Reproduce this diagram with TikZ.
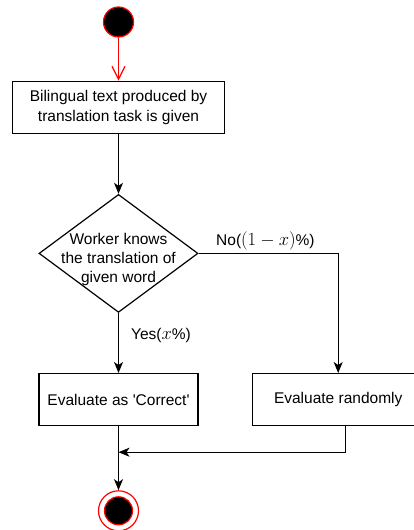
\documentclass[tikz,border=0pt]{standalone}
\usepackage{fix-cm}
\usepackage{fontspec}
\setmainfont{Liberation Sans}
\usetikzlibrary{arrows.meta, positioning, shapes.geometric}
\newcommand{\bigmath}[1]{{\fontsize{18.5}{18.6}\selectfont$#1$}}

\begin{document}
\begin{tikzpicture}[node distance=60pt, font=\fontsize{15.5}{18.6}\selectfont, line width=1.2pt,
  box/.style={draw, rectangle, minimum height=52pt, align=center, inner sep=0pt},
  arr/.style={-{Stealth[length=11pt, width=9pt, inset=3pt]}},
  lbl/.style={inner sep=1pt}]
  \useasboundingbox (0,0) rectangle (414pt,-530pt);
  \node[circle, draw=red, fill=black, minimum size=30pt, inner sep=0pt] (start) at (118.5pt,-22pt) {};
  \node[box, minimum width=212pt, below=43pt of start] (given) {Bilingual text produced by\\[1.5pt]translation task is given};
  \node[diamond, draw, minimum width=159pt, minimum height=118pt, inner sep=0pt, below=of given] (knows) {};
  \node[align=center] (knowstext) at ([yshift=-6pt]knows.center) {Worker knows\\the translation of\\given word};
  \node[box, minimum width=159pt, below=of knows] (correct) {Evaluate as \textquotesingle Correct\textquotesingle};
  \node[box, minimum width=172pt, right=53pt of correct] (random) {Evaluate randomly};
  \node[circle, draw=red, minimum size=40pt, inner sep=0pt, below=64pt of correct] (end) {};
  \node[circle, draw=red, fill=black, minimum size=28pt, inner sep=0pt] (endin) at (end) {};
  % branch labels
  \node[lbl, anchor=west] (no) at ([shift={(16pt,13pt)}]knows.east) {No(\bigmath{(1-x)}\%)};
  \node[lbl, anchor=west] (yes) at ([shift={(11pt,-22pt)}]knows.south) {Yes(\bigmath{x}\%)};
  \coordinate (merge) at ([yshift=-26pt]correct.south);
  \coordinate (randout) at ([xshift=7pt]random.south);
  % connectors
  \draw[red, -{Straight Barb[length=13pt, width=13pt]}] (start) -- (given);
  \draw[arr] (given) -- (knows);
  \draw[arr] (knows) -- (correct);
  \draw[arr] (knows.east) -| (random.north);
  \draw[arr] (correct) -- (end);
  \draw[arr] (randout) |- (merge);
\end{tikzpicture}
\end{document}
